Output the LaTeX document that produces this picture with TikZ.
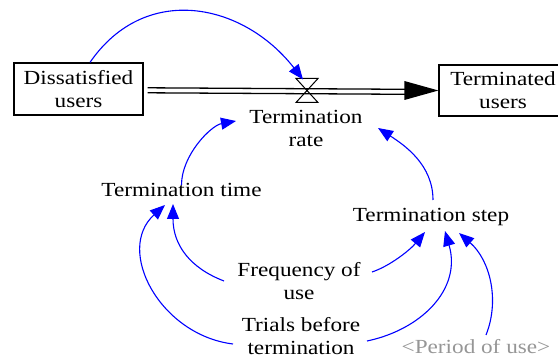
\documentclass[tikz,border=0pt]{standalone}
\usepackage{fontspec}
\setmainfont{Liberation Serif}[FakeStretch=1.16]
\usetikzlibrary{arrows.meta,calc}
\definecolor{linkblue}{RGB}{0,0,255}
\definecolor{ghost}{RGB}{150,150,150}
\begin{document}
\begin{tikzpicture}[x=1pt,y=-1pt,
  lbl/.style={inner sep=0pt,align=center,font=\fontsize{20}{23}\selectfont},
  stock/.style={lbl,draw,line width=1.2pt,minimum width=129pt,minimum height=52pt},
  link/.style={draw=linkblue,line width=1.1pt,-{Triangle[length=15pt,width=12pt]}},
  pipe/.style={line width=1.3pt},
]
\useasboundingbox (0,0) rectangle (558,358);

% stocks
\node[stock] (dis) at (78.5,89) {Dissatisfied\\users};
\node[stock,minimum width=128pt,minimum height=51pt] (term) at (503,90.5) {Terminated\\users};

% flow pipe with valve
\coordinate (valve) at (307,90.5);
\draw[pipe] ($(dis.east)+(4,-1.2)$) -- ($(term.west)+(-33,-1.2)$);
\draw[pipe] ($(dis.east)+(4,3.8)$) -- ($(term.west)+(-33,3.8)$);
\fill ($(term.west)+(-34,-9.5)$) -- (term.west) -- ($(term.west)+(-34,9.5)$) -- cycle;
\draw[line width=1pt] ($(valve)+(-11,-12)$) -- ($(valve)+(11,-12)$) -- ($(valve)+(-11,12)$) -- ($(valve)+(11,12)$) -- cycle;

% auxiliaries
\node[lbl] (rate) at (306,128.5) {Termination\\rate};
\node[lbl] (ttime) at (181.5,190) {Termination time};
\node[lbl] (tstep) at (431,217) {Termination step};
\node[lbl] (freq) at (299,281) {Frequency of\\use};
\node[lbl] (trials) at (301,336.5) {Trials before\\termination};
\node[lbl,text=ghost] (period) at (476,347) {<Period of use>};

% causal links
\draw[link] ($(dis.north)+(11.5,0)$) .. controls ($(dis.north)+(66.5,-80)$) and ($(valve)+(-64,-88)$) .. ($(valve)+(-4,-11)$);
\draw[link] ($(ttime.north)+(0,2)$) .. controls ($(ttime.north)+(0,-28)$) and ($(rate)+(-95,-3)$) .. ($(rate)+(-70,-7.5)$);
\draw[link] ($(tstep)+(2,-17)$) .. controls ($(tstep)+(2,-52)$) and ($(rate)+(99,17)$) .. ($(rate)+(72,-0.5)$);
\draw[link] ($(freq)+(-75,0)$) .. controls ($(freq)+(-109,-13)$) and ($(ttime)+(-8.5,55)$) .. ($(ttime)+(-8.5,14)$);
\draw[link] ($(trials)+(-68,7.5)$) .. controls ($(trials)+(-141,-1.5)$) and ($(ttime)+(-66.5,60)$) .. ($(ttime)+(-16.5,15)$);
\draw[link] ($(freq)+(73,-9)$) .. controls ($(freq)+(91,-15)$) and ($(tstep)+(-21,33)$) .. ($(tstep)+(-6,15)$);
\draw[link] ($(trials)+(66,4.5)$) .. controls ($(trials)+(119,-6.5)$) and ($(tstep)+(31,73)$) .. ($(tstep)+(14,14)$);
\draw[link] ($(period)+(10,-12)$) .. controls ($(period)+(24,-47)$) and ($(tstep)+(59,43)$) .. ($(tstep)+(28,16)$);
\end{tikzpicture}
\end{document}
